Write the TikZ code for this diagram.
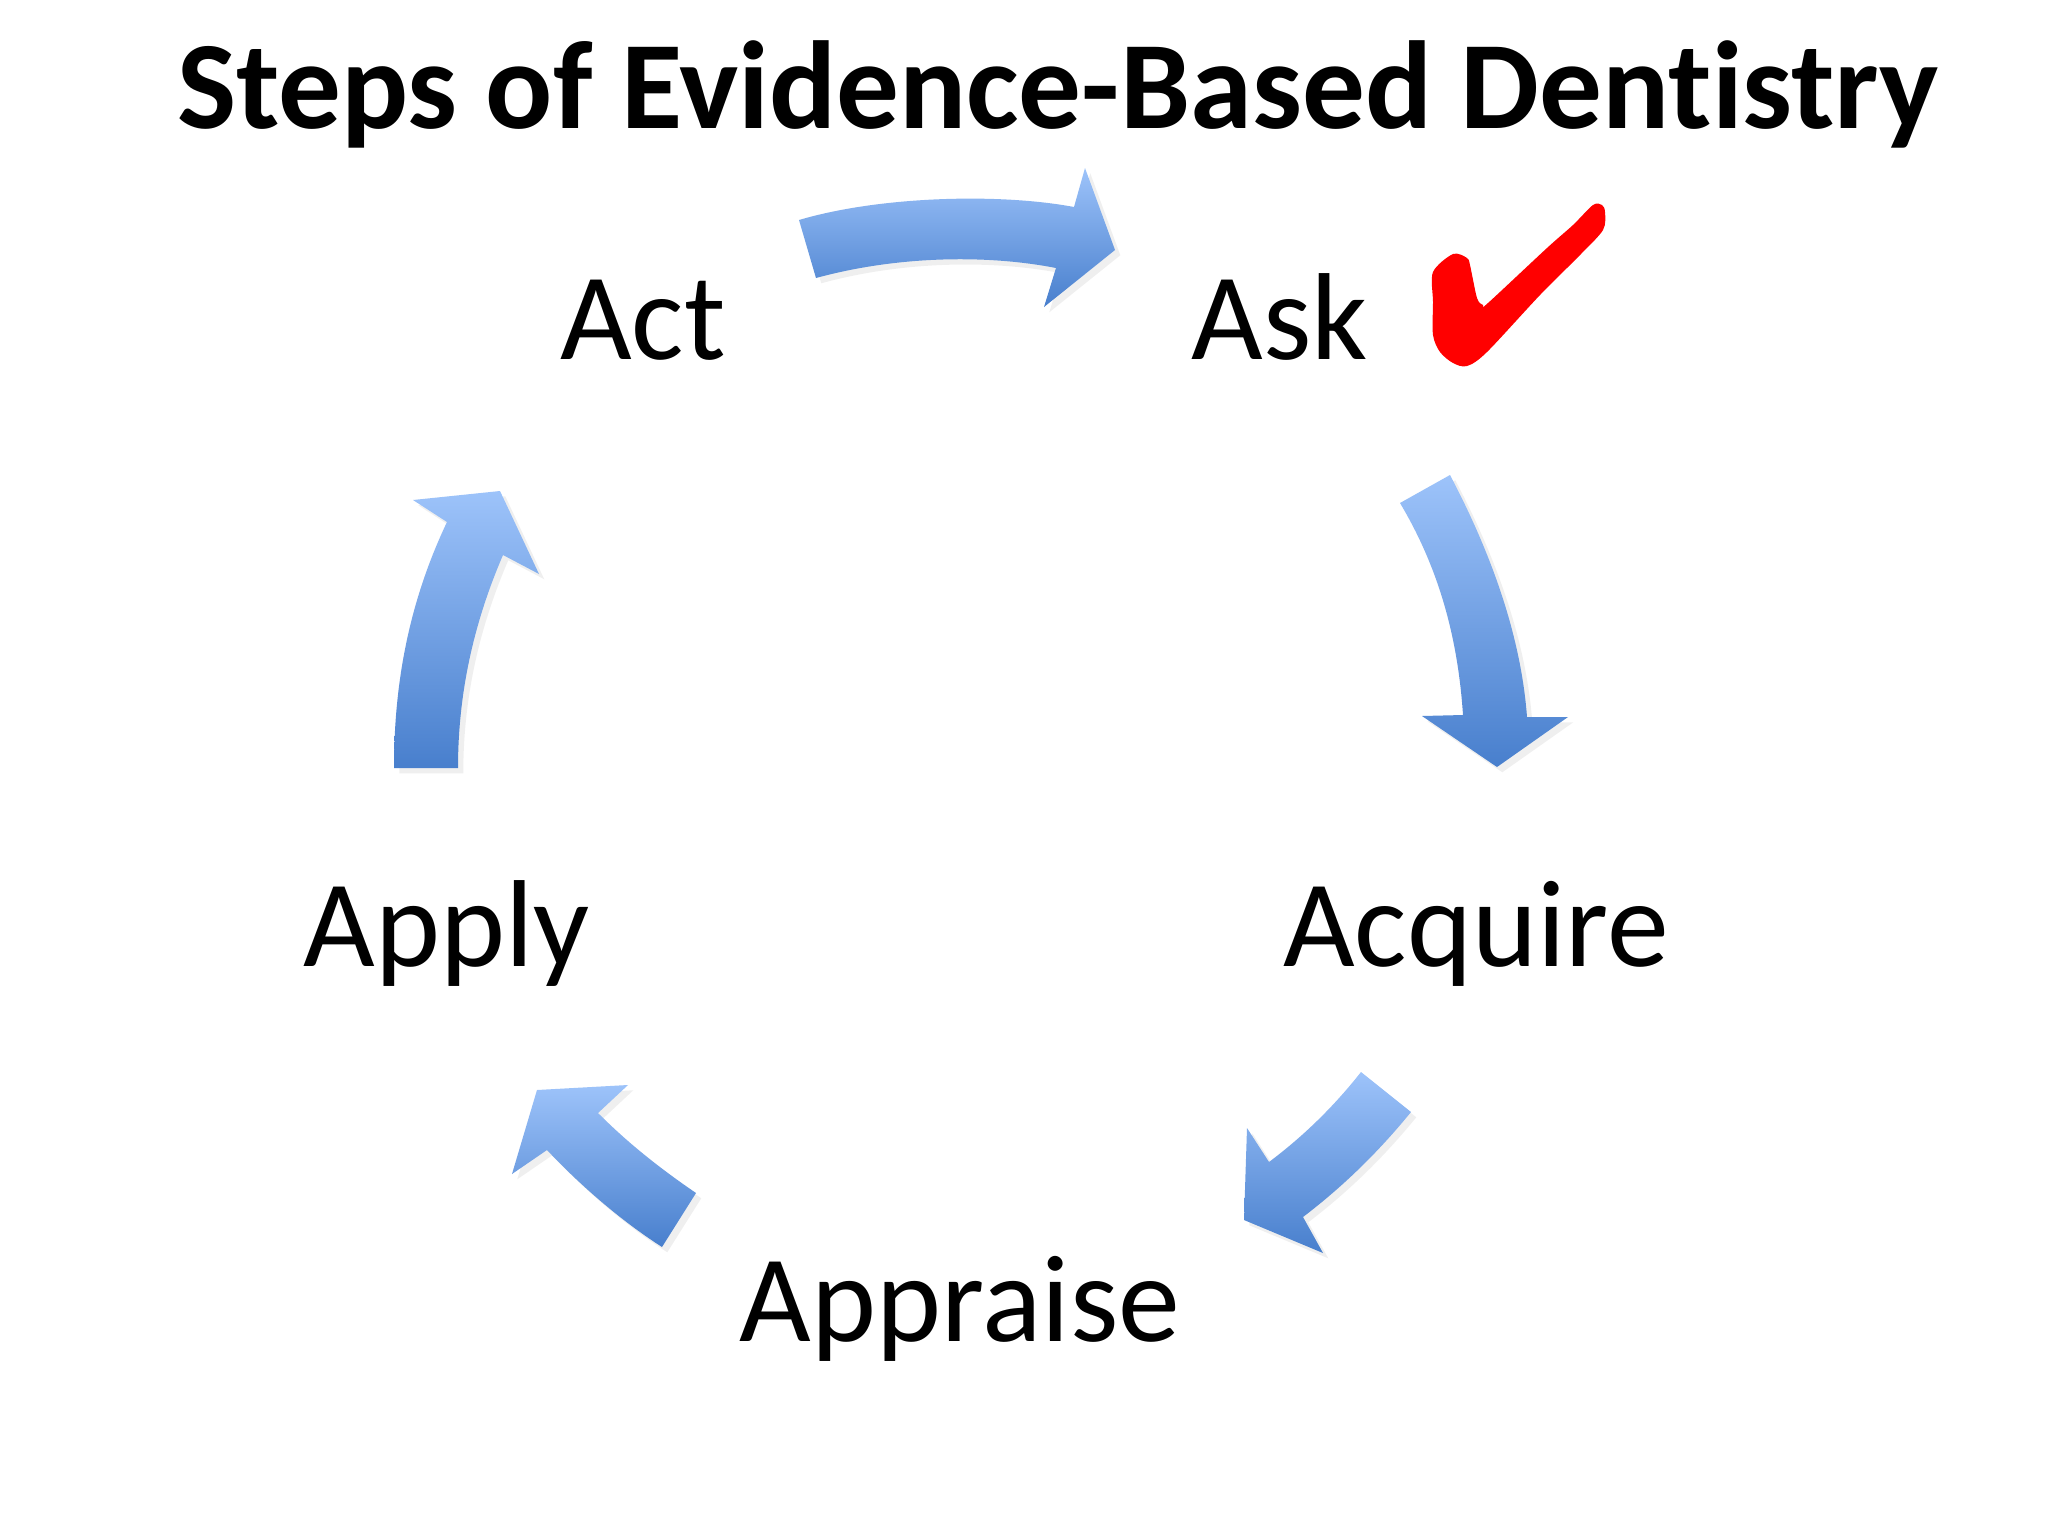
\documentclass[tikz,border=0pt]{standalone}
\usepackage{fontspec}
\setmainfont{Carlito}[Ligatures=NoCommon]
\usetikzlibrary{shadows}
\definecolor{arrowtop}{RGB}{157,195,250}
\definecolor{arrowbottom}{RGB}{72,127,205}
\definecolor{checkred}{RGB}{255,0,0}
\tikzset{
  steplabel/.style={font=\fontsize{35.2}{42}\selectfont, anchor=base, inner sep=0pt},
  bluearrow/.style={top color=arrowtop, bottom color=arrowbottom,
    drop shadow={opacity=0.12, shadow xshift=1.5pt, shadow yshift=-1.5pt}},
}
\begin{document}
\begin{tikzpicture}[x=0.01cm, y=-0.01cm]
        \useasboundingbox (0,0) rectangle (2048,1536);
        \fill[white] (0,0) rectangle (2048,1536);

        % Title
        \node[anchor=base, inner sep=0pt, font=\bfseries\fontsize{35.6}{44}\selectfont] (title) at (1058,128) {Steps of Evidence-Based Dentistry};

        % Steps
        \node[steplabel] (act) at (643,359) {Act};
        \node[steplabel] (ask) at (1280,359) {Ask};
        \node[steplabel] (acquire) at (1476,966) {Acquire};
        \node[steplabel] (appraise) at (960,1341) {Appraise};
        \node[steplabel] (apply) at (447,966) {Apply};

        % Act -> Ask
        \path[bluearrow] (799,220) .. controls (880,196) and (1000,193) .. (1074,207)
            -- (1085,168) -- (1115,250) -- (1044,307) -- (1056,268)
            .. controls (990,255) and (900,255) .. (816,278) -- cycle;
        % Ask -> Acquire
        \path[bluearrow] (1450,475) .. controls (1500,570) and (1522,650) .. (1527,717)
            -- (1568,717) -- (1497,767) -- (1422,716) -- (1463,715)
            .. controls (1458,640) and (1440,570) .. (1400,503) -- cycle;
        % Acquire -> Appraise
        \path[bluearrow] (1411,1112) .. controls (1380,1150) and (1345,1185) .. (1303,1217)
            -- (1323,1253) -- (1244,1220) -- (1247,1128) -- (1269,1162)
            .. controls (1305,1135) and (1335,1105) .. (1361,1072) -- cycle;
        % Appraise -> Apply
        \path[bluearrow] (696,1193) .. controls (655,1165) and (625,1140) .. (598,1113)
            -- (628,1085) -- (537,1090) -- (512,1174) -- (547,1150)
            .. controls (580,1185) and (620,1220) .. (662,1247) -- cycle;
        % Apply -> Act
        \path[bluearrow] (394,768) .. controls (394,680) and (410,600) .. (447,522)
            -- (413,500) -- (500,491) -- (539,574) -- (503,555)
            .. controls (475,620) and (458,690) .. (458,768) -- cycle;

        % Check mark
        \fill[checkred] plot[smooth cycle, tension=0.5] coordinates {(1433,272) (1453,254) (1467,258) (1470,265) (1477,298) (1483,305) (1488,303) (1547,248) (1573,225) (1593,205) (1602,205) (1605,212) (1603,230) (1580,255) (1540,295) (1487,352) (1467,366) (1453,363) (1440,352) (1433,335) (1433,302)};
\end{tikzpicture}
\end{document}
